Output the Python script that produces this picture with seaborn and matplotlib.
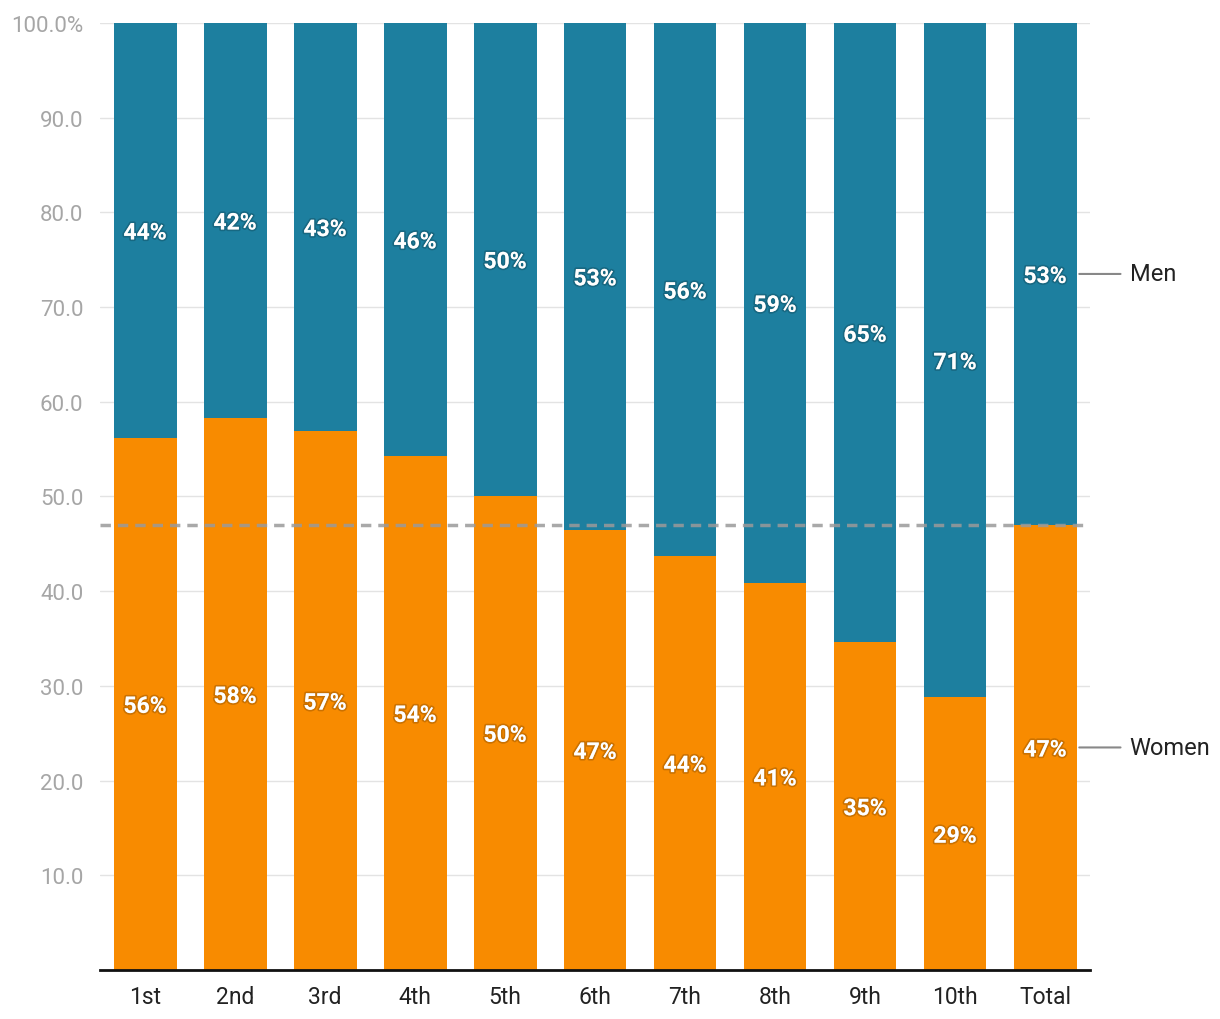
import matplotlib
matplotlib.use("Agg")
import matplotlib.pyplot as plt
import matplotlib.patheffects as pe
import seaborn as sns
import pandas as pd

categories = ["1st", "2nd", "3rd", "4th", "5th", "6th", "7th", "8th", "9th", "10th", "Total"]
women = [56.2, 58.3, 56.9, 54.3, 50.1, 46.5, 43.7, 40.9, 34.6, 28.8, 47.0]
men = [100 - w for w in women]
women_labels = ["56%", "58%", "57%", "54%", "50%", "47%", "44%", "41%", "35%", "29%", "47%"]
men_labels = ["44%", "42%", "43%", "46%", "50%", "53%", "56%", "59%", "65%", "71%", "53%"]
reference_line = 47.0
yticks = [10, 20, 30, 40, 50, 60, 70, 80, 90, 100]
ytick_labels = ["10.0", "20.0", "30.0", "40.0", "50.0", "60.0", "70.0", "80.0", "90.0", "100.0%"]

BLUE = "#1d7f9f"
ORANGE = "#f88b00"

sns.set_theme(style="white")
plt.rcParams["font.family"] = ["Roboto", "DejaVu Sans"]

df = pd.DataFrame({"cat": categories, "women": women, "men": men})

fig = plt.figure(figsize=(12.2, 10.2), dpi=100)
ax = fig.add_axes([100 / 1220, 49 / 1020, 990 / 1220, 947 / 1020])

sns.barplot(data=df, x="cat", y="women", color=ORANGE, width=0.7, saturation=1,
            linewidth=0, edgecolor="none", ax=ax, zorder=2)
sns.barplot(data=df, x="cat", y="men", bottom=df["women"], color=BLUE, width=0.7, saturation=1,
            linewidth=0, edgecolor="none", ax=ax, zorder=2)

ax.set_xlim(-0.5, 10.5)
ax.set_ylim(0, 100)
ax.set_yticks(yticks)
ax.set_yticklabels(ytick_labels)
ax.yaxis.grid(True, color="#e3e3e3", linewidth=1, zorder=0)
ax.set_axisbelow(True)
ax.tick_params(axis="y", length=0, labelsize=16, labelcolor="#a6a6a6", pad=12)
ax.tick_params(axis="x", length=0, labelsize=16.5, labelcolor="#222222", pad=11)
ax.set_xlabel("")
ax.set_ylabel("")
for s in ["top", "right", "left"]:
    ax.spines[s].set_visible(False)
ax.spines["bottom"].set_color("#111111")
ax.spines["bottom"].set_linewidth(2)
ax.spines["bottom"].set_zorder(5)

effects = [pe.withStroke(linewidth=2.5, foreground=(0, 0, 0, 0.18))]
for i, (w, m) in enumerate(zip(women, men)):
    ax.text(i, w / 2, women_labels[i], ha="center", va="center_baseline", color="white",
            fontsize=16.5, fontweight="bold", path_effects=effects, zorder=4)
    ax.text(i, w + m / 2, men_labels[i], ha="center", va="center_baseline", color="white",
            fontsize=16.5, fontweight="bold", path_effects=effects, zorder=4)

ax.axhline(reference_line, color="#9a9a9a", alpha=0.85, linestyle=(0, (3, 2)), linewidth=2.5, zorder=3)

# series labels on the right
last = len(categories) - 1
for yv, name in [(women[last] / 2, "Women"), (women[last] + men[last] / 2, "Men")]:
    ax.annotate("", xy=(last + 0.35, yv), xytext=(last + 0.87, yv),
                arrowprops=dict(arrowstyle="-", color="#888888", lw=1.5), annotation_clip=False)
    ax.text(last + 0.94, yv, name, ha="left", va="center", fontsize=17, color="#222222")

fig.savefig("out.png", dpi=100)
